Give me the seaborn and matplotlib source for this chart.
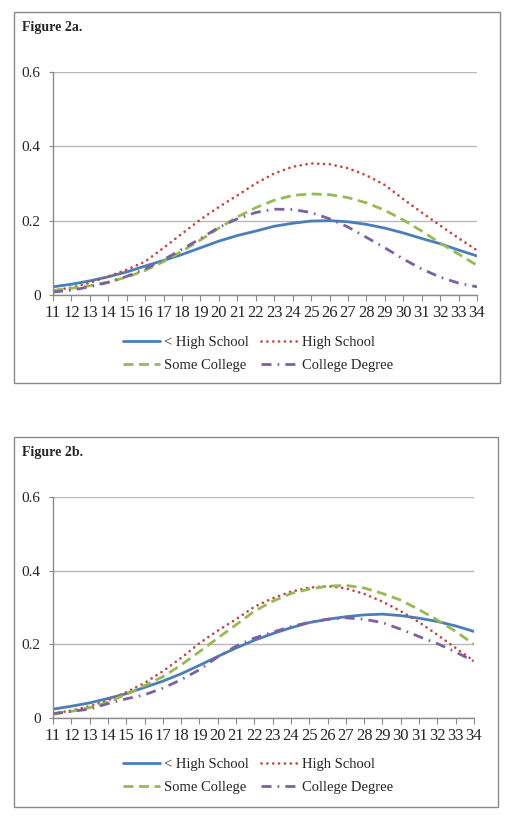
import numpy as np
import pandas as pd
import matplotlib
matplotlib.use("Agg")
import matplotlib.pyplot as plt
import seaborn as sns

# Ages on the x axis
ages = list(range(11, 35))

# Figure 2a values
a_less_hs = [0.022, 0.029, 0.038, 0.049, 0.062, 0.078, 0.093, 0.109, 0.127, 0.145, 0.160,
             0.172, 0.185, 0.193, 0.199, 0.200, 0.197, 0.190, 0.180, 0.167, 0.152, 0.138,
             0.121, 0.105]
a_hs = [0.012, 0.020, 0.033, 0.050, 0.068, 0.090, 0.127, 0.165, 0.203, 0.237, 0.268,
        0.300, 0.327, 0.345, 0.354, 0.352, 0.341, 0.322, 0.296, 0.258, 0.222, 0.187,
        0.153, 0.120]
a_some_col = [0.012, 0.018, 0.025, 0.035, 0.048, 0.066, 0.090, 0.118, 0.148, 0.180, 0.210,
              0.235, 0.255, 0.268, 0.272, 0.270, 0.262, 0.248, 0.228, 0.202, 0.172, 0.140,
              0.110, 0.080]
a_col_deg = [0.008, 0.013, 0.022, 0.034, 0.050, 0.070, 0.095, 0.123, 0.152, 0.182, 0.205,
             0.222, 0.231, 0.230, 0.222, 0.205, 0.183, 0.155, 0.127, 0.097, 0.070, 0.048,
             0.032, 0.022]

# Figure 2b values
b_less_hs = [0.024, 0.032, 0.041, 0.053, 0.066, 0.083, 0.100, 0.120, 0.143, 0.167, 0.190,
             0.211, 0.229, 0.245, 0.259, 0.268, 0.275, 0.280, 0.282, 0.278, 0.271, 0.262,
             0.250, 0.235]
b_hs = [0.012, 0.020, 0.032, 0.048, 0.070, 0.095, 0.127, 0.163, 0.203, 0.237, 0.268,
        0.302, 0.325, 0.343, 0.354, 0.358, 0.352, 0.337, 0.316, 0.290, 0.260, 0.226,
        0.190, 0.155]
b_some_col = [0.010, 0.018, 0.028, 0.043, 0.064, 0.088, 0.112, 0.144, 0.180, 0.217, 0.253,
              0.290, 0.317, 0.338, 0.350, 0.358, 0.360, 0.353, 0.338, 0.320, 0.294, 0.266,
              0.235, 0.200]
b_col_deg = [0.012, 0.018, 0.024, 0.039, 0.052, 0.063, 0.081, 0.104, 0.131, 0.166, 0.195,
             0.217, 0.233, 0.248, 0.260, 0.268, 0.272, 0.268, 0.259, 0.241, 0.221, 0.202,
             0.179, 0.154]

groups = ["< High School", "High School", "Some College", "College Degree"]
colors = ["#4A7EBB", "#BE4B48", "#98B954", "#7D60A0"]
dashes = [None, (0.01, 2.1), (3.6, 2.0), (3.6, 2.2, 0.6, 2.2)]

W, H = 512, 819


def fx(px):
    return px / W


def fy(py):
    return 1 - py / H


sns.set_style("white")
plt.rcParams["font.family"] = ["Liberation Serif", "DejaVu Serif"]

fig = plt.figure(figsize=(W / 100, H / 100), dpi=100)


def draw_panel(frame, axbox, title, series, legend_y):
    # outer frame
    x0, y0, x1, y1 = frame
    fig.add_artist(plt.Rectangle((fx(x0), fy(y1)), fx(x1) - fx(x0), fy(y0) - fy(y1),
                                 transform=fig.transFigure, fill=False,
                                 ec="#8a8a8a", lw=1.0))
    fig.text(fx(x0 + 8), fy(y0 + 15), title, fontsize=10, fontweight="bold",
             va="center", ha="left")

    l, t, r, b = axbox
    ax = fig.add_axes([fx(l), fy(b), fx(r) - fx(l), fy(t) - fy(b)])
    handles = []
    for name, vals, c, d in zip(groups, series, colors, dashes):
        df = pd.DataFrame({"age": ages, "value": vals})
        sns.lineplot(data=df, x="age", y="value", ax=ax, color=c, lw=2.0,
                     label=name, legend=False)
        line = ax.get_lines()[-1]
        if d is not None:
            line.set_dashes(d)
            if d[0] < 0.1:
                line.set_dash_capstyle("round")
        handles.append(line)

    ax.set_xlim(11, 34)
    ax.set_ylim(0, 0.6)
    ax.set_xticks(ages)
    ax.set_xticklabels([str(a) for a in ages])
    ax.set_yticks([0, 0.2, 0.4, 0.6])
    ax.set_yticklabels(["0", "0.2", "0.4", "0.6"])
    ax.set_xlabel("")
    ax.set_ylabel("")
    ax.grid(axis="y", color="#b8b8b8", lw=1.0)
    ax.grid(axis="x", visible=False)
    for s in ["top", "right"]:
        ax.spines[s].set_visible(False)
    for s in ["left", "bottom"]:
        ax.spines[s].set_color("#8a8a8a")
        ax.spines[s].set_linewidth(1.0)
    ax.tick_params(axis="x", direction="out", length=4, color="#8a8a8a",
                   labelsize=12, pad=3, bottom=True)
    ax.tick_params(axis="y", direction="out", length=3, color="#8a8a8a",
                   labelsize=11, pad=6, left=True)

    # legend fills column by column, so reorder to get row-wise layout
    order = [0, 2, 1, 3]
    fig.legend([handles[i] for i in order], [groups[i] for i in order],
               loc="center", bbox_to_anchor=(fx(258), fy(legend_y)),
               ncol=2, frameon=False, fontsize=10.5, handlelength=2.5,
               handletextpad=0.3, columnspacing=0.8, labelspacing=0.7)
    return ax


draw_panel((14, 12, 500, 383), (53, 72, 477, 295), "Figure 2a.",
           [a_less_hs, a_hs, a_some_col, a_col_deg], 354)
draw_panel((14, 437, 498, 807), (53, 497, 474, 718), "Figure 2b.",
           [b_less_hs, b_hs, b_some_col, b_col_deg], 776)

fig.savefig("out.png", dpi=100)
